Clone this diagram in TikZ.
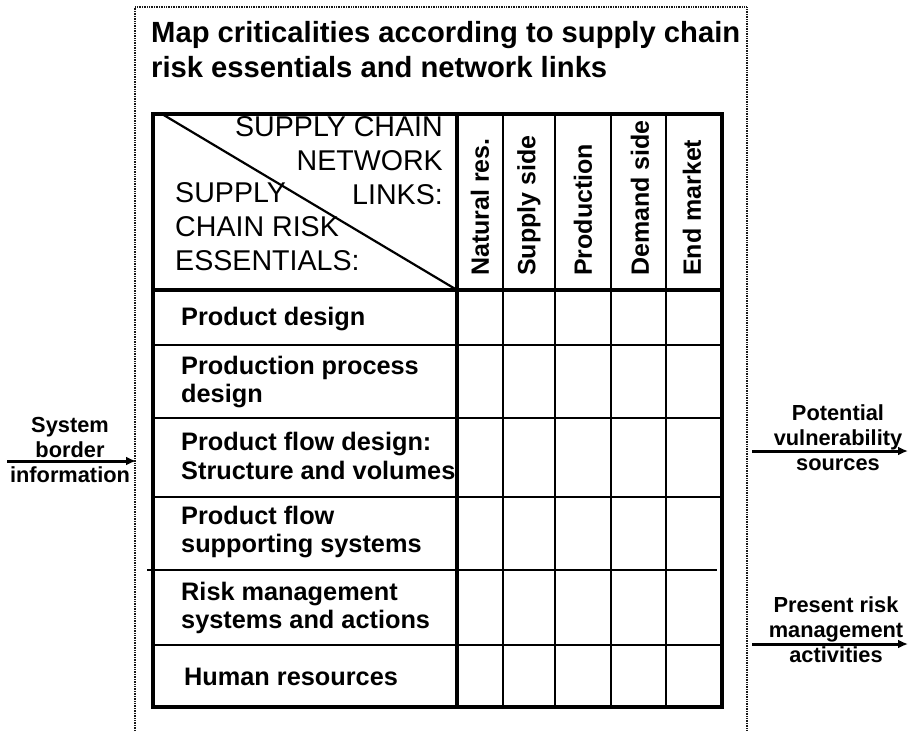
\documentclass[tikz,border=0pt]{standalone}
\usepackage{fontspec}
\setmainfont{Liberation Sans}
\usetikzlibrary{arrows.meta}

\tikzset{
  borderline/.style={line width=1.8pt, dash pattern=on 1pt off 0.7pt, black!90},
  tabthick/.style={line width=3.6pt},
  tabthin/.style={line width=1.6pt},
  flow/.style={line width=3pt, -{Latex[length=10pt,width=9pt]}},
  titletext/.style={font=\fontsize{29.2}{35}\selectfont\bfseries, align=left, inner sep=0pt},
  hdrtext/.style={font=\fontsize{28.6}{34}\selectfont, inner sep=0pt},
  rowlab/.style={font=\fontsize{25.3}{28.5}\selectfont\bfseries, align=left, anchor=west, inner sep=0pt},
  colhead/.style={font=\fontsize{25}{28}\selectfont\bfseries, rotate=90, anchor=west, inner sep=0pt},
  sidelab/.style={font=\fontsize{21.8}{25}\selectfont\bfseries, align=center, inner sep=0pt},
}

\begin{document}
\begin{tikzpicture}[x=1pt,y=-1pt]
    \useasboundingbox (0,0) rectangle (909,731);
    % system border (open at the bottom)
    \draw[borderline] (135,731) -- (135,7) -- (747,7) -- (747,731);
    \node[titletext, anchor=west] (title) at (151,50) {Map criticalities according to supply chain\\risk essentials and network links};

    % table grid
    \foreach \y in {345,418,497,645} \draw[tabthin] (153,\y) -- (722,\y);
    \draw[tabthin] (147,570) -- (717,570);
    \foreach \x in {503,555,611,666} \draw[tabthin] (\x,114) -- (\x,707);
    \draw[line width=2.2pt] (162,114) -- (457,290);
    \draw[tabthick] (153,290) -- (722,290);
    \draw[tabthick] (457,114) -- (457,707);
    \draw[tabthick] (153,114) rectangle (722,707);

    % header cell
    \node[hdrtext, align=right, anchor=north east] (links) at (443,116) {SUPPLY CHAIN\\NETWORK\\LINKS:};
    \node[hdrtext, align=left, anchor=south west] (essentials) at (175,271) {SUPPLY\\CHAIN RISK\\ESSENTIALS:};

    % network links
    \foreach \x/\txt [count=\i] in {480/Natural res., 529/Supply side, 583/Production, 640/Demand side, 692/End market}
        \node[colhead] (col\i) at (\x,276) {\txt};

    % risk essentials
    \node[rowlab] (row1) at (181,319) {Product design};
    \node[rowlab] (row2) at (181,382) {Production process\\design};
    \node[rowlab] (row3) at (181,456) {Product flow design:\\Structure and volumes};
    \node[rowlab] (row4) at (181,532) {Product flow\\supporting systems};
    \node[rowlab] (row5) at (181,608) {Risk management\\systems and actions};
    \node[rowlab] (row6) at (184,677) {Human resources};

    % inputs and outputs
    \node[sidelab] (inlab) at (70,450) {System\\border\\information};
    \coordinate (inA) at (7,461);
    \coordinate (inB) at (136,461);
    \draw[flow] (inA) -- (inB);

    \node[sidelab] (vulnlab) at (838,438) {Potential\\vulnerability\\sources};
    \coordinate (vulnA) at (752,451);
    \coordinate (vulnB) at (908,451);
    \draw[flow] (vulnA) -- (vulnB);

    \node[sidelab] (actlab) at (836,630) {Present risk\\management\\activities};
    \coordinate (actA) at (752,644);
    \coordinate (actB) at (908,644);
    \draw[flow] (actA) -- (actB);
\end{tikzpicture}
\end{document}
